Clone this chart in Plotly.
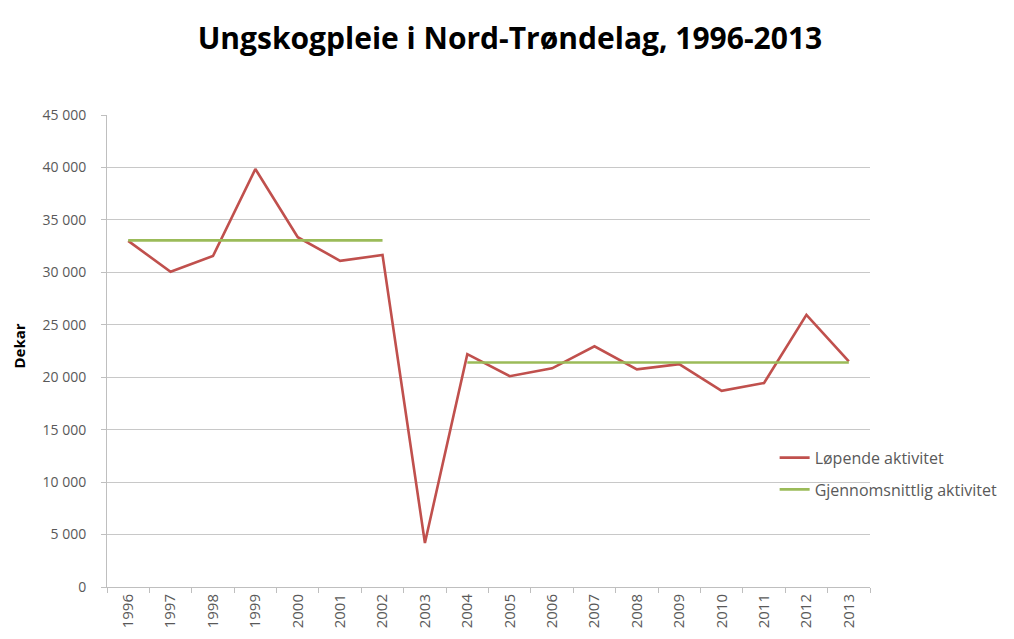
import plotly.graph_objects as go

years = [str(y) for y in range(1996, 2014)]
lopende = [33000, 30050, 31550, 39850, 33350, 31100, 31650, 4200, 22200, 20100,
           20850, 22950, 20750, 21250, 18700, 19450, 25950, 21500]
gjennomsnitt = [33050, 33050, 33050, 33050, 33050, 33050, 33050, None,
                21400, 21400, 21400, 21400, 21400, 21400, 21400, 21400, 21400, 21400]
y_ticks = list(range(0, 45001, 5000))
y_tick_text = ["0" if v == 0 else f"{v // 1000} 000" for v in y_ticks]

RED = "#C0504D"
GREEN = "#9BBB59"
GRAY = "#595959"

fig = go.Figure()
fig.add_trace(go.Scatter(x=years, y=lopende, mode="lines", name="Løpende aktivitet",
                         line=dict(color=RED, width=2.6), legendgroup="a"))
fig.add_trace(go.Scatter(x=years, y=gjennomsnitt, mode="lines", name="Gjennomsnittlig aktivitet",
                         line=dict(color=GREEN, width=2.6), connectgaps=False, legendgroup="b"))

fig.add_annotation(text="<b>Dekar</b>", textangle=-90, xref="paper", yref="paper",
                   x=-0.115, y=0.51, xanchor="center", yanchor="middle", showarrow=False,
                   font=dict(size=15, color="#000000", family="Open Sans, sans-serif"))

fig.update_layout(
    width=1014, height=639,
    paper_bgcolor="white", plot_bgcolor="white",
    margin=dict(l=99, r=152, t=107, b=60),
    font=dict(family="Open Sans, DejaVu Sans, sans-serif", color=GRAY, size=13),
    title=dict(text="<b>Ungskogpleie i Nord-Trøndelag, 1996-2013</b>",
               x=0.495, xanchor="center", y=0.953, yanchor="middle",
               font=dict(size=30, color="#000000", family="Open Sans, sans-serif")),
    showlegend=True,
    legend=dict(x=0.875, y=0.31, xanchor="left", yanchor="top",
                bgcolor="rgba(0,0,0,0)", font=dict(size=16, color=GRAY),
                tracegroupgap=8, itemwidth=30),
    xaxis=dict(type="category", range=[-0.5, 17.5], showgrid=False, automargin=False,
               showline=True, linecolor="#BFBFBF", linewidth=1,
               ticks="outside", tickson="boundaries", ticklen=5, tickcolor="#BFBFBF",
               tickangle=-90, tickfont=dict(size=15, color=GRAY)),
    yaxis=dict(range=[0, 45000], tickvals=y_ticks, ticktext=y_tick_text, automargin=False,
               showgrid=True, gridcolor="#C8C8C8", gridwidth=1,
               showline=True, linecolor="#BFBFBF", linewidth=1,
               ticks="outside", ticklen=5, tickcolor="#BFBFBF", ticklabelstandoff=12,
               tickfont=dict(size=14, color=GRAY), zeroline=False),
)

fig.write_html("out.html")
